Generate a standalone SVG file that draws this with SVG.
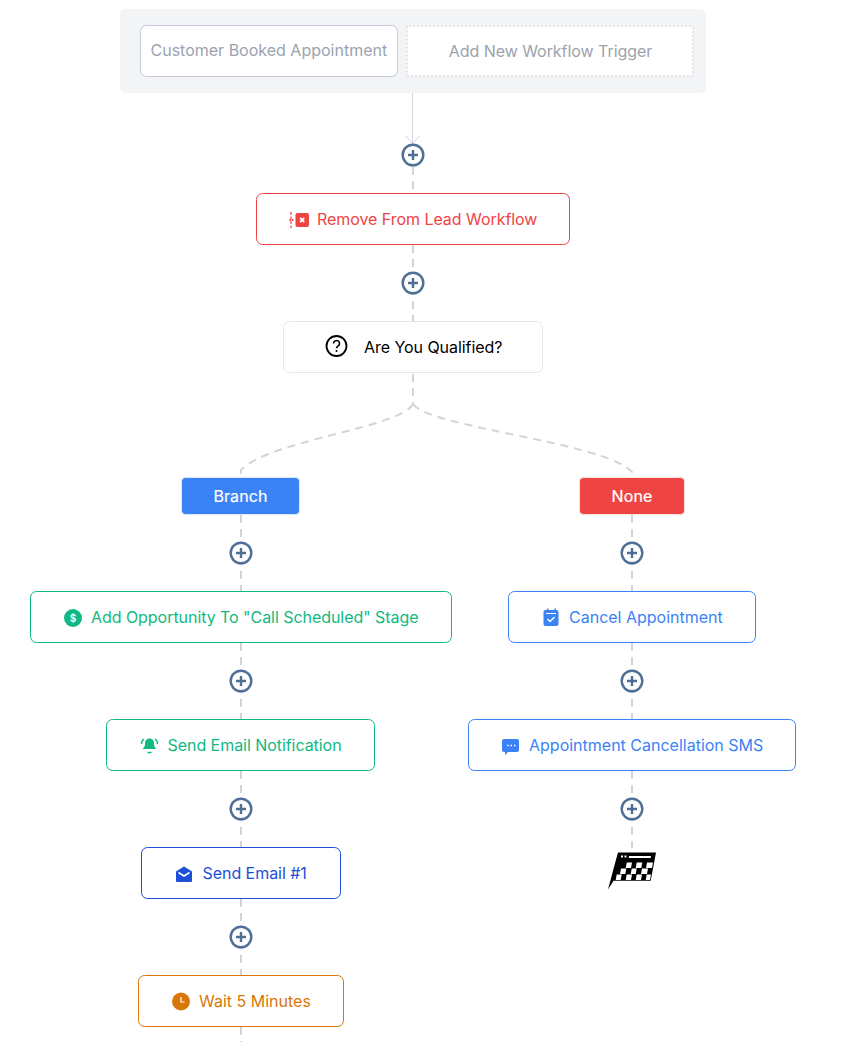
<svg xmlns="http://www.w3.org/2000/svg" width="850" height="1042" viewBox="0 0 850 1042">
<style>
text{font-family:Inter,"Liberation Sans",sans-serif;font-size:16px;letter-spacing:-.05px}
.ls0{letter-spacing:0}
.box{fill:#fff;stroke-width:1}
.dash{fill:none;stroke:#d1d5db;stroke-width:2;stroke-dasharray:8 6}
.pc{fill:#fff;stroke:#4f6f96;stroke-width:2.400}
.pp{fill:none;stroke:#4f6f96;stroke-width:2.400}
.lb{font-weight:400;letter-spacing:.1px;stroke:#fff;stroke-width:.2px}
</style>
<defs>
<g id="plus"><circle class="pc" r="10.300"/><path class="pp" d="M-5 0H5M0-5V5"/></g>
</defs>
<rect width="850" height="1042" fill="#fff"/>
<g id="connectors">
<path d="M412.500 93V143M405 135.500L412.500 143.500L420 135.500" fill="none" stroke="#d1d5db" stroke-width="1"/>
<path class="dash" d="M413 167V193"/>
<path class="dash" d="M413 245V321"/>
<path class="dash" d="M413 374V404"/>
<path class="dash" d="M413 404C400 428 270 440 241 470V477"/>
<path class="dash" d="M413 404C430 428 605 442 632 472V477"/>
<path class="dash" d="M241 515V591"/>
<path class="dash" d="M241 643V719"/>
<path class="dash" d="M241 771V847"/>
<path class="dash" d="M241 899V975"/>
<path class="dash" d="M241 1027V1042"/>
<path class="dash" d="M632 515V591"/>
<path class="dash" d="M632 643V719"/>
<path class="dash" d="M632 771V848"/>
</g>
<g id="trigger-panel"><rect x="120" y="9" width="586" height="84" rx="6" fill="#f3f4f6"/></g>
<g id="trigger-booked"><rect x="140.500" y="25.500" width="257" height="51" rx="6" fill="#fff" stroke="#c3cad6"/><text class="ls0" x="150.500" y="56" fill="#9ca3af">Customer Booked Appointment</text></g>
<g id="trigger-add"><rect x="407" y="26" width="286" height="50" rx="2" fill="#fff" stroke="#e0e3e8" stroke-width="2" stroke-dasharray="2 2"/><text x="550.500" y="57" fill="#9ca3af" text-anchor="middle">Add New Workflow Trigger</text></g>
<use id="add-1" href="#plus" x="413" y="155"/>
<g id="remove-lead"><rect class="box" x="256.500" y="193.500" width="313" height="51" rx="6" stroke="#ef4444"/>
<path d="M291 212V228" stroke="#ef4444" stroke-width="1.200" stroke-dasharray="3 1.500" fill="none"/><path d="M289.500 220h4" stroke="#ef4444" stroke-width="2" stroke-dasharray="1.500 1"/>
<rect x="295.500" y="213" width="13.500" height="14" rx="2" fill="#ef4444"/><path d="M300.200 218L304.200 222M304.200 218L300.200 222" stroke="#fff" stroke-width="1.800"/>
<text x="317" y="225" fill="#ef4444">Remove From Lead Workflow</text></g>
<use id="add-2" href="#plus" x="413" y="283"/>
<g id="qualified"><rect class="box" x="283.500" y="321.500" width="259" height="51" rx="6" stroke="#e5e7eb"/>
<circle cx="336.500" cy="346" r="10" fill="none" stroke="#000" stroke-width="1.800"/>
<path d="M333.500 343.500a3 3 0 1 1 4.500 2.600c-1 .6-1.500 1.100-1.500 2.200" fill="none" stroke="#000" stroke-width="1.600"/><circle cx="336.500" cy="351" r="1" fill="#000"/>
<text x="364" y="353" fill="#000">Are You Qualified?</text></g>
<g id="branch"><rect x="181.500" y="477.500" width="118" height="37" rx="4" fill="#3b82f6" stroke="#dbe7fb"/><text class="lb" x="240.500" y="502" fill="#fff" text-anchor="middle">Branch</text></g>
<g id="none"><rect x="579.500" y="477.500" width="105" height="37" rx="4" fill="#ef4444" stroke="#fbe0e0"/><text class="lb" x="632" y="502" fill="#fff" text-anchor="middle">None</text></g>
<use id="add-3" href="#plus" x="241" y="553"/>
<use id="add-4" href="#plus" x="632" y="553"/>
<g id="add-opportunity"><rect class="box" x="30.500" y="591.500" width="421" height="51" rx="6" stroke="#10b981"/>
<circle cx="73" cy="618" r="9" fill="#10b981"/><text x="73" y="622" fill="#fff" text-anchor="middle" style="font-size:10px;font-weight:600">$</text>
<text x="91" y="623" fill="#10b981">Add Opportunity To "Call Scheduled" Stage</text></g>
<g id="cancel-appointment"><rect class="box" x="508.500" y="591.500" width="247" height="51" rx="6" stroke="#3b82f6"/>
<path d="M543.500 612a2 2 0 0 1 2-2h1.500v-1.500h1.500V610h6v-1.500H556V610h.5a2 2 0 0 1 2 2v12a2 2 0 0 1-2 2h-11a2 2 0 0 1-2-2z" fill="#3b82f6"/><path d="M546 613.500h10" stroke="#fff" stroke-width="1"/><path d="M547.500 619L550 621.500L554.500 617" fill="none" stroke="#fff" stroke-width="1.500"/>
<text class="ls0" x="569" y="623" fill="#3b82f6">Cancel Appointment</text></g>
<use id="add-5" href="#plus" x="241" y="681"/>
<use id="add-6" href="#plus" x="632" y="681"/>
<g id="email-notification"><rect class="box" x="106.500" y="719.500" width="268" height="51" rx="6" stroke="#10b981"/>
<path d="M142.500 749C145 747 145 745 145 743a4.500 4.500 0 0 1 9 0c0 2 0 4 2.500 6z" fill="#10b981"/><path d="M147.500 752.500h4" stroke="#10b981" stroke-width="1.500"/><path d="M141.500 744c0-2 1-4 2.500-5M157.500 744c0-2-1-4-2.500-5" fill="none" stroke="#10b981" stroke-width="1.500"/>
<text x="167.500" y="751" fill="#10b981">Send Email Notification</text></g>
<g id="cancel-sms"><rect class="box" x="468.500" y="719.500" width="327" height="51" rx="6" stroke="#3b82f6"/>
<path d="M505 739h12a2 2 0 0 1 2 2v9a2 2 0 0 1-2 2h-9l-3 3v-3h-1a2 2 0 0 1-2-2v-9a2 2 0 0 1 2-2z" fill="#3b82f6"/><path d="M507 745.500h1.500M510.500 745.500h1.500M514 745.500h1.500" stroke="#fff" stroke-width="1.500"/>
<text class="ls0" x="529" y="751" fill="#3b82f6">Appointment Cancellation SMS</text></g>
<use id="add-7" href="#plus" x="241" y="809"/>
<use id="add-8" href="#plus" x="632" y="809"/>
<g id="send-email"><rect class="box" x="141.500" y="847.500" width="199" height="51" rx="6" stroke="#1d4ed8"/>
<path d="M176 871.500L184 866.500L192 871.500V881a1 1 0 0 1-1 1H177a1 1 0 0 1-1-1z" fill="#1d4ed8"/><path d="M178.500 872.500L184 876L189.500 872.500" fill="none" stroke="#fff" stroke-width="1.500"/>
<text x="202.500" y="879" fill="#1d4ed8">Send Email #1</text></g>
<g id="finish"><path d="M618 852.500H656L650.700 880.700H613.500L608 889.600L614 867Z" fill="#000"/>
<path d="M621 855.500h2v2h-2zM624.500 855.500h2v2h-2zM629 856h22l-.3 2h-22z" fill="#fff"/>
<path d="M626.700 862.500h5.300l-1 5.500h-5.300zM636.700 862.500h5.600l-1 5.500h-5.600zM647 862.500h6l-1 5.500h-6zM621 868.500h5.300l-1 5.500h-5.300zM631.700 868.500h5l-1 5.500h-5zM642 868.500h6l-1 5.500h-6zM616.700 874.500h5l-1 5.500h-5zM626.700 874.500h5.300l-1 5.500h-5.300zM636.700 874.500h5.300l-1 5.500h-5.300zM646.700 874.500h4.300l-1 5.500h-4.300z" fill="#fff"/></g>
<use id="add-9" href="#plus" x="241" y="937"/>
<g id="wait"><rect class="box" x="138.500" y="975.500" width="205" height="51" rx="6" stroke="#d97706"/>
<circle cx="181" cy="1001.500" r="9" fill="#d97706"/><path d="M181 997V1002H184.500" fill="none" stroke="#fff" stroke-width="1.200"/>
<text class="ls0" x="199" y="1007" fill="#d97706">Wait 5 Minutes</text></g>
</svg>
